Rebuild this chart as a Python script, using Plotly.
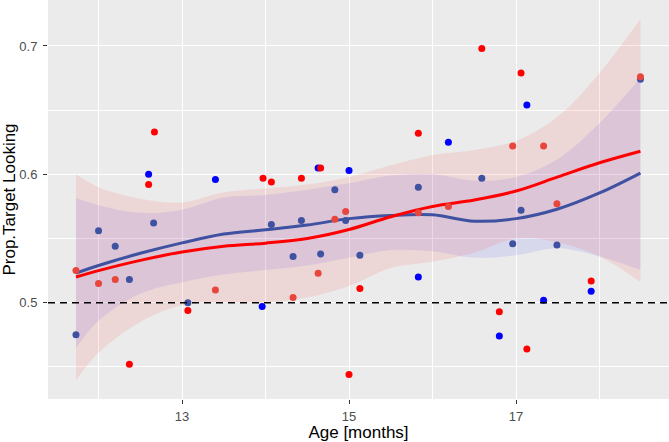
import numpy as np
import plotly.graph_objects as go

# ---- observed points (two conditions) ----
red_age = [11.73, 12.00, 12.20, 12.37, 12.60, 12.67, 13.07, 13.40, 13.97, 14.07,
           14.33, 14.43, 14.63, 14.66, 14.83, 14.96, 15.00, 15.13, 15.83, 15.83,
           16.19, 16.59, 16.80, 16.96, 17.06, 17.13, 17.33, 17.49, 17.90, 18.49]
red_prop = [0.525, 0.515, 0.518, 0.452, 0.592, 0.633, 0.494, 0.510, 0.597, 0.594,
            0.504, 0.597, 0.523, 0.605, 0.565, 0.571, 0.444, 0.511, 0.632, 0.570,
            0.575, 0.698, 0.493, 0.622, 0.679, 0.464, 0.622, 0.577, 0.517, 0.676]

blue_age = [11.73, 12.00, 12.20, 12.37, 12.60, 12.66, 13.07, 13.40, 13.96, 14.07,
            14.33, 14.43, 14.63, 14.66, 14.83, 14.96, 15.00, 15.13, 15.83, 15.83,
            16.19, 16.59, 16.80, 16.96, 17.06, 17.13, 17.33, 17.49, 17.90, 18.49]
blue_prop = [0.475, 0.556, 0.544, 0.518, 0.600, 0.562, 0.500, 0.596, 0.497, 0.561,
             0.536, 0.564, 0.605, 0.538, 0.588, 0.564, 0.603, 0.537, 0.590, 0.520,
             0.625, 0.597, 0.474, 0.546, 0.572, 0.654, 0.502, 0.545, 0.509, 0.674]

# ---- smooth fits with confidence bands ----
fit_age = [11.73, 12.0, 12.5, 13.0, 13.5, 14.0, 14.5, 15.0, 15.5, 16.0, 16.5, 17.0, 17.5, 18.0, 18.49]
red_fit = [0.520, 0.525, 0.533, 0.5395, 0.544, 0.5464, 0.550, 0.557, 0.567, 0.575, 0.580, 0.587, 0.598, 0.609, 0.618]
red_hi = [0.600, 0.590, 0.581, 0.578, 0.586, 0.589, 0.592, 0.598, 0.607, 0.615, 0.619, 0.626, 0.645, 0.679, 0.721]
red_lo = [0.4396, 0.461, 0.485, 0.498, 0.500, 0.500, 0.504, 0.513, 0.527, 0.532, 0.539, 0.550, 0.547, 0.536, 0.516]
blue_fit = [0.523, 0.529, 0.5385, 0.5466, 0.5535, 0.5568, 0.5605, 0.5655, 0.568, 0.5685, 0.5635, 0.5655, 0.573, 0.5855, 0.601]
blue_hi = [0.5815, 0.576, 0.570, 0.5725, 0.582, 0.584, 0.588, 0.593, 0.599, 0.600, 0.595, 0.598, 0.612, 0.640, 0.675]
blue_lo = [0.4645, 0.486, 0.507, 0.516, 0.522, 0.5255, 0.529, 0.535, 0.541, 0.540, 0.535, 0.537, 0.5425, 0.536, 0.5255]

chance = 0.5

RED = "#FF0000"
BLUE = "#0000FF"
RED_MUTED = "#E8463C"
BLUE_MUTED = "#3F51A1"
RED_FILL = "rgba(255,0,0,0.085)"
BLUE_FILL = "rgba(0,0,255,0.08)"
FONT = "Liberation Sans, Arial, sans-serif"


def inside_band(xs, ys):
    fx = np.array(fit_age)
    lo = np.minimum(np.interp(xs, fx, red_lo), np.interp(xs, fx, blue_lo))
    hi = np.maximum(np.interp(xs, fx, red_hi), np.interp(xs, fx, blue_hi))
    ys = np.array(ys)
    xs = np.array(xs)
    return (xs >= fx[0]) & (xs <= fx[-1]) & (ys >= lo) & (ys <= hi)


fig = go.Figure()

for lo, hi, fill in [(blue_lo, blue_hi, BLUE_FILL), (red_lo, red_hi, RED_FILL)]:
    fig.add_trace(go.Scatter(x=fit_age, y=lo, mode="lines", line=dict(width=0, shape="spline"),
                             hoverinfo="skip", showlegend=False))
    fig.add_trace(go.Scatter(x=fit_age, y=hi, mode="lines", line=dict(width=0, shape="spline"),
                             fill="tonexty", fillcolor=fill, hoverinfo="skip", showlegend=False))

fig.add_trace(go.Scatter(x=fit_age, y=blue_fit, mode="lines",
                         line=dict(color=BLUE_MUTED, width=3, shape="spline"), showlegend=False))
fig.add_trace(go.Scatter(x=fit_age, y=red_fit, mode="lines",
                         line=dict(color=RED, width=3, shape="spline"), showlegend=False))

b_in = inside_band(blue_age, blue_prop)
r_in = inside_band(red_age, red_prop)
fig.add_trace(go.Scatter(x=blue_age, y=blue_prop, mode="markers",
                         marker=dict(size=7, color=[BLUE_MUTED if f else BLUE for f in b_in]),
                         showlegend=False))
fig.add_trace(go.Scatter(x=red_age, y=red_prop, mode="markers",
                         marker=dict(size=7, color=[RED_MUTED if f else RED for f in r_in]),
                         showlegend=False))

fig.add_shape(type="line", xref="paper", yref="y", x0=0, x1=1, y0=chance, y1=chance,
              line=dict(color="black", width=1.6, dash="7px,5px"), layer="above")

axis_common = dict(
    showgrid=True, gridcolor="white", gridwidth=1.3,
    zeroline=False, showline=False,
    ticks="outside", ticklen=4, tickwidth=1.1, tickcolor="#333333",
    tickfont=dict(family=FONT, size=13, color="#4D4D4D"),
)

fig.update_layout(
    width=669, height=442,
    margin=dict(l=48, r=0, t=0, b=43),
    plot_bgcolor="#EBEBEB", paper_bgcolor="white",
    font=dict(family=FONT),
    xaxis=dict(range=[11.395, 18.832], tick0=13, dtick=2,
               minor=dict(dtick=1, showgrid=True, gridcolor="white", gridwidth=0.6),
               title=dict(text="Age [months]", font=dict(family=FONT, size=17, color="black"), standoff=3),
               ticklabelstandoff=1,
               **axis_common),
    yaxis=dict(range=[0.425, 0.7358], tick0=0.5, dtick=0.1,
               minor=dict(dtick=0.05, showgrid=True, gridcolor="white", gridwidth=0.6),
               title=dict(text="Prop.Target Looking", font=dict(family=FONT, size=17, color="black"), standoff=4),
               ticklabelstandoff=3,
               **axis_common),
)

fig.write_html("out.html")
